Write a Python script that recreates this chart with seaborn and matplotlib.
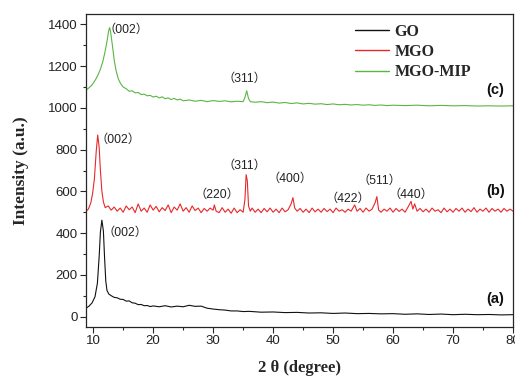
import matplotlib
matplotlib.use("Agg")
import matplotlib.pyplot as plt
from matplotlib.ticker import MultipleLocator
import seaborn as sns
import pandas as pd

# ---- data ----
go_x = [8.8, 9.3, 9.8, 10.3, 10.7, 11.0, 11.2, 11.45, 11.7, 11.9, 12.1, 12.3, 12.6, 13.0, 13.5, 14.0,
        14.5, 15.0, 15.5, 16.0, 16.5, 17.0, 17.5, 18.0, 18.5, 19.0, 19.5, 20.0, 21.0, 22.0, 23.0, 24.0,
        25.0, 26.0, 27.0, 28.0, 29.0, 30.0, 31.0, 32.0, 33.0, 34.0, 35.0, 36.0, 38.0, 40.0, 42.0, 44.0,
        46.0, 48.0, 50.0, 52.0, 54.0, 56.0, 58.0, 60.0, 62.0, 64.0, 66.0, 68.0, 70.0, 72.0, 74.0, 76.0,
        78.0, 80.0]
go_y = [40, 50, 65, 95, 160, 290, 405, 462, 410, 280, 170, 125, 108, 100, 92, 90,
        83, 82, 74, 75, 66, 64, 57, 58, 52, 53, 48, 51, 47, 52, 46, 50,
        47, 54, 49, 50, 40, 36, 33, 31, 27, 27, 24, 25, 21, 22, 19, 20,
        17, 18, 15, 17, 14, 15, 13, 14, 11, 13, 10, 12, 9, 11, 9, 10,
        8, 9]

mgo_x = [8.8, 9.2, 9.6, 9.9, 10.2, 10.5, 10.75, 11.0, 11.2, 11.45, 11.7, 12.0,
         12.5, 13.0, 13.5, 14.0, 14.5, 15.0, 15.5, 16.0, 16.5, 17.0, 17.5, 18.0, 18.5, 19.0, 19.5,
         20.0, 20.5, 21.0, 21.5, 22.0, 22.5, 23.0, 23.5, 24.0, 24.5, 25.0, 25.5, 26.0, 26.5, 27.0,
         27.5, 28.0, 28.5, 29.0, 29.5, 30.0, 30.2, 30.5, 31.0, 31.5, 32.0, 32.5, 33.0, 33.5, 34.0,
         34.5, 35.0, 35.3, 35.5, 35.7, 35.9, 36.2, 36.5, 37.0, 37.5, 38.0, 38.5, 39.0, 39.5, 40.0,
         40.5, 41.0, 41.5, 42.0, 42.5, 43.0, 43.3, 43.6, 44.0, 44.5, 45.0, 45.5, 46.0, 46.5, 47.0,
         47.5, 48.0, 48.5, 49.0, 49.5, 50.0, 50.5, 51.0, 51.5, 52.0, 52.5, 53.0, 53.6, 54.0, 54.5,
         55.0, 55.5, 56.0, 56.5, 57.0, 57.3, 57.6, 58.0, 58.5, 59.0, 59.5, 60.0, 60.5, 61.0, 61.5,
         62.0, 62.5, 63.0, 63.3, 63.6, 64.0, 64.5, 65.0, 65.5, 66.0, 66.5, 67.0, 67.5, 68.0, 68.5,
         69.0, 69.5, 70.0, 70.5, 71.0, 71.5, 72.0, 72.5, 73.0, 73.5, 74.0, 74.5, 75.0, 75.5, 76.0,
         76.5, 77.0, 77.5, 78.0, 78.5, 79.0, 79.5, 80.0]
mgo_y = [505, 515, 545, 590, 660, 790, 870, 810, 700, 600, 550, 522,
         530, 510, 525, 505, 520, 500, 530, 512, 525, 498, 540, 505, 520, 500, 535,
         510, 528, 502, 522, 508, 535, 498, 525, 510, 540, 505, 522, 500, 530, 508,
         520, 498, 518, 505, 520, 510, 535, 505, 498, 522, 500, 515, 495, 520, 498,
         512, 500, 560, 680, 650, 530, 505, 520, 500, 515, 498, 518, 502, 520, 500,
         515, 498, 520, 502, 512, 540, 570, 520, 505, 518, 500, 515, 498, 520, 502,
         515, 500, 518, 503, 515, 498, 520, 505, 512, 500, 515, 505, 535, 505, 518,
         500, 520, 505, 515, 545, 575, 510, 500, 515, 505, 520, 500, 518, 504, 515,
         500, 525, 552, 515, 540, 505, 518, 502, 515, 500, 520, 505, 512, 498, 520,
         502, 515, 500, 518, 505, 520, 500, 515, 503, 522, 500, 515, 505, 520, 500,
         518, 505, 515, 500, 518, 505, 515, 505]

mip_x = [8.8, 9.2, 9.6, 10.0, 10.4, 10.8, 11.2, 11.6, 12.0, 12.3, 12.6, 12.75, 12.9, 13.2, 13.5,
         13.8, 14.2, 14.6, 15.0, 15.5, 16.0, 16.5, 17.0, 17.5, 18.0, 18.5, 19.0, 19.5, 20.0, 20.5,
         21.0, 21.5, 22.0, 22.5, 23.0, 23.5, 24.0, 24.5, 25.0, 26.0, 27.0, 28.0, 29.0, 30.0, 31.0,
         32.0, 33.0, 34.0, 35.0, 35.3, 35.6, 35.9, 36.2, 37.0, 38.0, 39.0, 40.0, 41.0, 42.0, 43.0,
         44.0, 45.0, 46.0, 47.0, 48.0, 49.0, 50.0, 51.0, 52.0, 53.0, 54.0, 55.0, 56.0, 57.0, 58.0,
         59.0, 60.0, 62.0, 64.0, 66.0, 68.0, 70.0, 72.0, 74.0, 76.0, 78.0, 80.0]
mip_y = [1085, 1094, 1104, 1118, 1136, 1158, 1185, 1222, 1272, 1320, 1372, 1385, 1365, 1300, 1230,
         1180, 1138, 1115, 1100, 1092, 1080, 1082, 1072, 1074, 1064, 1066, 1058, 1060, 1052, 1056,
         1048, 1053, 1044, 1048, 1040, 1046, 1038, 1042, 1034, 1038, 1032, 1036, 1030, 1035, 1031,
         1034, 1029, 1032, 1030, 1050, 1082, 1045, 1030, 1027, 1030, 1025, 1028, 1023, 1026, 1021,
         1024, 1019, 1022, 1018, 1020, 1016, 1019, 1015, 1017, 1014, 1016, 1013, 1015, 1012, 1014,
         1011, 1013, 1011, 1013, 1010, 1012, 1010, 1011, 1009, 1010, 1009, 1010]

series_names = ["GO", "MGO", "MGO-MIP"]
series_colors = ["#111111", "#e8282a", "#5bb544"]

peak_labels = ["（002）", "（002）", "（002）", "（311）", "（311）", "（220）", "（400）",
               "（422）", "（511）", "（440）"]
peak_x = [11.6, 10.4, 11.8, 31.6, 31.6, 26.9, 39.1, 48.8, 54.0, 59.3]
peak_y = [403, 848, 1375, 1138, 720, 584, 659, 563, 652, 584]

curve_tags = ["(a)", "(b)", "(c)"]
curve_tag_y = [83, 604, 1087]

# ---- figure ----
sns.set_style("ticks")
plt.rcParams["font.family"] = ["Liberation Sans", "Noto Sans CJK SC", "DejaVu Sans"]

fig = plt.figure(figsize=(5.15, 3.77), dpi=100)
ax = fig.add_axes([86 / 515, 1 - 327 / 377, 427 / 515, 313 / 377])

for xs, ys, name, col in zip([go_x, mgo_x, mip_x], [go_y, mgo_y, mip_y], series_names, series_colors):
    df = pd.DataFrame({"x": xs, "y": ys})
    sns.lineplot(data=df, x="x", y="y", ax=ax, color=col, lw=0.8, label=name, estimator=None)

ax.set_xlim(8.8, 80)
ax.set_ylim(-50, 1450)
ax.xaxis.set_major_locator(MultipleLocator(10))
ax.xaxis.set_minor_locator(MultipleLocator(5))
ax.yaxis.set_major_locator(MultipleLocator(200))
ax.yaxis.set_minor_locator(MultipleLocator(100))
ax.tick_params(which="major", direction="out", length=4, width=0.8, labelsize=9.5, pad=2,
               labelcolor="#222222")
ax.tick_params(which="minor", direction="out", length=2.5, width=0.8)
for sp in ax.spines.values():
    sp.set_linewidth(0.9)
    sp.set_visible(True)

ax.set_xlabel("2 θ (degree)", family="Liberation Serif", fontweight="bold", fontsize=12, labelpad=9)
ax.set_ylabel("Intensity (a.u.)", family="Liberation Serif", fontweight="bold", fontsize=12.5, labelpad=14)

for lab, px, py in zip(peak_labels, peak_x, peak_y):
    ax.text(px, py, lab, fontsize=8.8, va="center", ha="left",
            family=["Liberation Sans", "Noto Sans CJK SC"], color="#222222")

for tag, ty in zip(curve_tags, curve_tag_y):
    ax.text(78.6, ty, tag, fontsize=10.5, fontweight="bold", va="center", ha="right",
            family="Liberation Sans", color="#111111")

leg = ax.legend(loc="upper left", bbox_to_anchor=(0.612, 0.995), frameon=False,
                prop={"family": "Liberation Serif", "weight": "bold", "size": 11.5},
                handlelength=2.1, handletextpad=0.35, labelspacing=0.28, borderpad=0)
for h in leg.get_lines():
    h.set_linewidth(1.0)

fig.savefig("out.png", dpi=100)
